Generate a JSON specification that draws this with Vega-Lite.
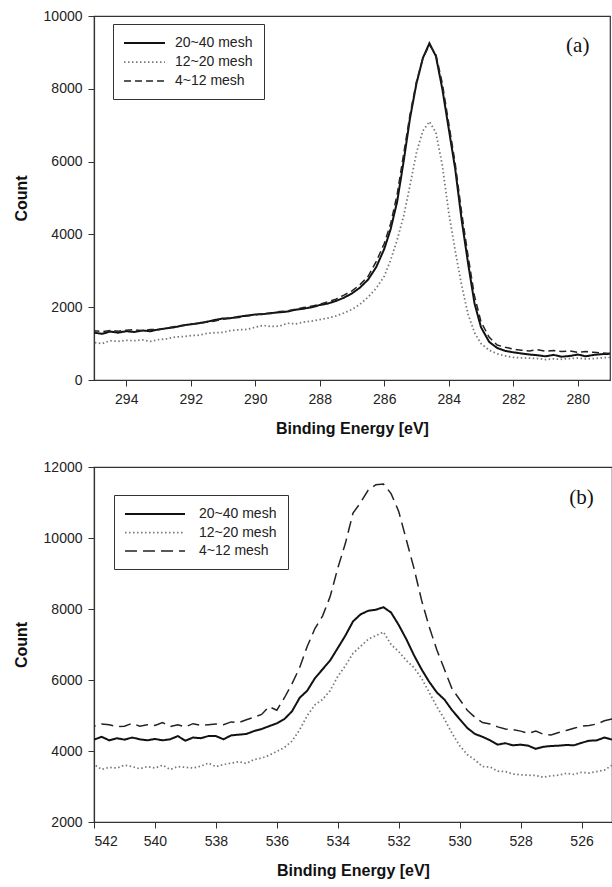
{
  "$schema": "https://vega.github.io/schema/vega-lite/v6.json",
  "background": "white",
  "padding": {"left": 12, "top": 8, "right": 1, "bottom": 2},
  "config": {
    "view": {"stroke": "#333", "strokeWidth": 1.2},
    "axis": {
      "grid": false,
      "domainColor": "#333",
      "domainWidth": 1.2,
      "tickColor": "#333",
      "tickSize": 6,
      "labelFont": "Liberation Sans",
      "labelFontSize": 14,
      "labelColor": "#222",
      "titleFont": "Liberation Sans",
      "titleFontSize": 16,
      "titleFontWeight": "bold",
      "titleColor": "#111",
      "labelPadding": 6
    },
    "legend": {
      "orient": "none",
      "title": null,
      "labelFont": "Liberation Sans",
      "labelFontSize": 14,
      "labelColor": "#222",
      "strokeColor": "#333",
      "fillColor": "white",
      "padding": 11,
      "symbolSize": 196
    }
  },
  "datasets": {
    "c1s": [
      {"e": 295.0, "20~40 mesh": 1300, "12~20 mesh": 1030, "4~12 mesh": 1350},
      {"e": 294.75, "20~40 mesh": 1270, "12~20 mesh": 1000, "4~12 mesh": 1330},
      {"e": 294.5, "20~40 mesh": 1330, "12~20 mesh": 1080, "4~12 mesh": 1360},
      {"e": 294.25, "20~40 mesh": 1300, "12~20 mesh": 1060, "4~12 mesh": 1340},
      {"e": 294.0, "20~40 mesh": 1340, "12~20 mesh": 1090, "4~12 mesh": 1370},
      {"e": 293.75, "20~40 mesh": 1320, "12~20 mesh": 1080, "4~12 mesh": 1380},
      {"e": 293.5, "20~40 mesh": 1360, "12~20 mesh": 1100, "4~12 mesh": 1350},
      {"e": 293.25, "20~40 mesh": 1340, "12~20 mesh": 1060, "4~12 mesh": 1390},
      {"e": 293.0, "20~40 mesh": 1390, "12~20 mesh": 1110, "4~12 mesh": 1380},
      {"e": 292.75, "20~40 mesh": 1420, "12~20 mesh": 1130, "4~12 mesh": 1420},
      {"e": 292.5, "20~40 mesh": 1450, "12~20 mesh": 1180, "4~12 mesh": 1470},
      {"e": 292.25, "20~40 mesh": 1500, "12~20 mesh": 1190, "4~12 mesh": 1490},
      {"e": 292.0, "20~40 mesh": 1530, "12~20 mesh": 1220, "4~12 mesh": 1540},
      {"e": 291.75, "20~40 mesh": 1560, "12~20 mesh": 1230, "4~12 mesh": 1550},
      {"e": 291.5, "20~40 mesh": 1600, "12~20 mesh": 1280, "4~12 mesh": 1590},
      {"e": 291.25, "20~40 mesh": 1650, "12~20 mesh": 1300, "4~12 mesh": 1620},
      {"e": 291.0, "20~40 mesh": 1690, "12~20 mesh": 1310, "4~12 mesh": 1670},
      {"e": 290.75, "20~40 mesh": 1700, "12~20 mesh": 1360, "4~12 mesh": 1700},
      {"e": 290.5, "20~40 mesh": 1740, "12~20 mesh": 1380, "4~12 mesh": 1720},
      {"e": 290.25, "20~40 mesh": 1770, "12~20 mesh": 1390, "4~12 mesh": 1760},
      {"e": 290.0, "20~40 mesh": 1800, "12~20 mesh": 1450, "4~12 mesh": 1790},
      {"e": 289.75, "20~40 mesh": 1810, "12~20 mesh": 1500, "4~12 mesh": 1820},
      {"e": 289.5, "20~40 mesh": 1840, "12~20 mesh": 1470, "4~12 mesh": 1830},
      {"e": 289.25, "20~40 mesh": 1860, "12~20 mesh": 1480, "4~12 mesh": 1880},
      {"e": 289.0, "20~40 mesh": 1880, "12~20 mesh": 1560, "4~12 mesh": 1900},
      {"e": 288.75, "20~40 mesh": 1930, "12~20 mesh": 1540, "4~12 mesh": 1950},
      {"e": 288.5, "20~40 mesh": 1960, "12~20 mesh": 1590, "4~12 mesh": 1990},
      {"e": 288.25, "20~40 mesh": 2000, "12~20 mesh": 1620, "4~12 mesh": 2030},
      {"e": 288.0, "20~40 mesh": 2060, "12~20 mesh": 1660, "4~12 mesh": 2080},
      {"e": 287.75, "20~40 mesh": 2100, "12~20 mesh": 1700, "4~12 mesh": 2150},
      {"e": 287.5, "20~40 mesh": 2170, "12~20 mesh": 1760, "4~12 mesh": 2220},
      {"e": 287.25, "20~40 mesh": 2260, "12~20 mesh": 1840, "4~12 mesh": 2330},
      {"e": 287.0, "20~40 mesh": 2380, "12~20 mesh": 1940, "4~12 mesh": 2450},
      {"e": 286.75, "20~40 mesh": 2540, "12~20 mesh": 2080, "4~12 mesh": 2620},
      {"e": 286.5, "20~40 mesh": 2760, "12~20 mesh": 2280, "4~12 mesh": 2850},
      {"e": 286.25, "20~40 mesh": 3100, "12~20 mesh": 2520, "4~12 mesh": 3250},
      {"e": 286.0, "20~40 mesh": 3600, "12~20 mesh": 2850, "4~12 mesh": 3750},
      {"e": 285.8, "20~40 mesh": 4150, "12~20 mesh": 3300, "4~12 mesh": 4300},
      {"e": 285.6, "20~40 mesh": 4900, "12~20 mesh": 3850, "4~12 mesh": 5100},
      {"e": 285.4, "20~40 mesh": 6000, "12~20 mesh": 4500, "4~12 mesh": 6200},
      {"e": 285.2, "20~40 mesh": 7200, "12~20 mesh": 5350, "4~12 mesh": 7300},
      {"e": 285.0, "20~40 mesh": 8150, "12~20 mesh": 6250, "4~12 mesh": 8200},
      {"e": 284.8, "20~40 mesh": 8850, "12~20 mesh": 6850, "4~12 mesh": 8850},
      {"e": 284.6, "20~40 mesh": 9250, "12~20 mesh": 7100, "4~12 mesh": 9200},
      {"e": 284.4, "20~40 mesh": 8900, "12~20 mesh": 6800, "4~12 mesh": 8950},
      {"e": 284.2, "20~40 mesh": 8000, "12~20 mesh": 5900, "4~12 mesh": 8150},
      {"e": 284.0, "20~40 mesh": 6900, "12~20 mesh": 4600, "4~12 mesh": 7050},
      {"e": 283.8, "20~40 mesh": 5800, "12~20 mesh": 3550, "4~12 mesh": 5950},
      {"e": 283.6, "20~40 mesh": 4400, "12~20 mesh": 2600, "4~12 mesh": 4600},
      {"e": 283.4, "20~40 mesh": 3200, "12~20 mesh": 1800, "4~12 mesh": 3400},
      {"e": 283.2, "20~40 mesh": 2100, "12~20 mesh": 1300, "4~12 mesh": 2300},
      {"e": 283.0, "20~40 mesh": 1450, "12~20 mesh": 1000, "4~12 mesh": 1600},
      {"e": 282.75, "20~40 mesh": 1050, "12~20 mesh": 820, "4~12 mesh": 1180},
      {"e": 282.5, "20~40 mesh": 880, "12~20 mesh": 720, "4~12 mesh": 960},
      {"e": 282.25, "20~40 mesh": 800, "12~20 mesh": 660, "4~12 mesh": 900},
      {"e": 282.0, "20~40 mesh": 760, "12~20 mesh": 620, "4~12 mesh": 850},
      {"e": 281.75, "20~40 mesh": 730, "12~20 mesh": 610, "4~12 mesh": 820},
      {"e": 281.5, "20~40 mesh": 700, "12~20 mesh": 600, "4~12 mesh": 800},
      {"e": 281.25, "20~40 mesh": 680, "12~20 mesh": 590, "4~12 mesh": 830},
      {"e": 281.0, "20~40 mesh": 650, "12~20 mesh": 560, "4~12 mesh": 790},
      {"e": 280.75, "20~40 mesh": 690, "12~20 mesh": 580, "4~12 mesh": 810},
      {"e": 280.5, "20~40 mesh": 640, "12~20 mesh": 570, "4~12 mesh": 780},
      {"e": 280.25, "20~40 mesh": 660, "12~20 mesh": 590, "4~12 mesh": 800},
      {"e": 280.0, "20~40 mesh": 700, "12~20 mesh": 600, "4~12 mesh": 760},
      {"e": 279.75, "20~40 mesh": 650, "12~20 mesh": 580, "4~12 mesh": 780},
      {"e": 279.5, "20~40 mesh": 690, "12~20 mesh": 590, "4~12 mesh": 760},
      {"e": 279.25, "20~40 mesh": 710, "12~20 mesh": 610, "4~12 mesh": 740},
      {"e": 279.0, "20~40 mesh": 720, "12~20 mesh": 620, "4~12 mesh": 730}
    ],
    "o1s": [
      {"e": 542.0, "20~40 mesh": 4320, "12~20 mesh": 3620, "4~12 mesh": 4700},
      {"e": 541.75, "20~40 mesh": 4400, "12~20 mesh": 3480, "4~12 mesh": 4760},
      {"e": 541.5, "20~40 mesh": 4300, "12~20 mesh": 3540, "4~12 mesh": 4740},
      {"e": 541.25, "20~40 mesh": 4360, "12~20 mesh": 3520, "4~12 mesh": 4690},
      {"e": 541.0, "20~40 mesh": 4320, "12~20 mesh": 3600, "4~12 mesh": 4700},
      {"e": 540.75, "20~40 mesh": 4380, "12~20 mesh": 3560, "4~12 mesh": 4780},
      {"e": 540.5, "20~40 mesh": 4330, "12~20 mesh": 3500, "4~12 mesh": 4700},
      {"e": 540.25, "20~40 mesh": 4300, "12~20 mesh": 3560, "4~12 mesh": 4740},
      {"e": 540.0, "20~40 mesh": 4340, "12~20 mesh": 3520, "4~12 mesh": 4720},
      {"e": 539.75, "20~40 mesh": 4300, "12~20 mesh": 3600, "4~12 mesh": 4800},
      {"e": 539.5, "20~40 mesh": 4330, "12~20 mesh": 3480, "4~12 mesh": 4690},
      {"e": 539.25, "20~40 mesh": 4420, "12~20 mesh": 3560, "4~12 mesh": 4740},
      {"e": 539.0, "20~40 mesh": 4290, "12~20 mesh": 3540, "4~12 mesh": 4680},
      {"e": 538.75, "20~40 mesh": 4380, "12~20 mesh": 3520, "4~12 mesh": 4770},
      {"e": 538.5, "20~40 mesh": 4360, "12~20 mesh": 3570, "4~12 mesh": 4720},
      {"e": 538.25, "20~40 mesh": 4420, "12~20 mesh": 3660, "4~12 mesh": 4740},
      {"e": 538.0, "20~40 mesh": 4420, "12~20 mesh": 3560, "4~12 mesh": 4760},
      {"e": 537.75, "20~40 mesh": 4330, "12~20 mesh": 3620, "4~12 mesh": 4740},
      {"e": 537.5, "20~40 mesh": 4440, "12~20 mesh": 3660, "4~12 mesh": 4820},
      {"e": 537.25, "20~40 mesh": 4460, "12~20 mesh": 3700, "4~12 mesh": 4800},
      {"e": 537.0, "20~40 mesh": 4480, "12~20 mesh": 3650, "4~12 mesh": 4880},
      {"e": 536.75, "20~40 mesh": 4560, "12~20 mesh": 3760, "4~12 mesh": 4950},
      {"e": 536.5, "20~40 mesh": 4620, "12~20 mesh": 3800, "4~12 mesh": 5030},
      {"e": 536.25, "20~40 mesh": 4700, "12~20 mesh": 3880, "4~12 mesh": 5250},
      {"e": 536.0, "20~40 mesh": 4780, "12~20 mesh": 3990, "4~12 mesh": 5150},
      {"e": 535.75, "20~40 mesh": 4900, "12~20 mesh": 4100, "4~12 mesh": 5500},
      {"e": 535.5, "20~40 mesh": 5120, "12~20 mesh": 4280, "4~12 mesh": 5900},
      {"e": 535.25, "20~40 mesh": 5500, "12~20 mesh": 4600, "4~12 mesh": 6350},
      {"e": 535.0, "20~40 mesh": 5700, "12~20 mesh": 5000, "4~12 mesh": 6950},
      {"e": 534.75, "20~40 mesh": 6050, "12~20 mesh": 5300, "4~12 mesh": 7450},
      {"e": 534.5, "20~40 mesh": 6300, "12~20 mesh": 5450, "4~12 mesh": 7800},
      {"e": 534.25, "20~40 mesh": 6550, "12~20 mesh": 5700, "4~12 mesh": 8350},
      {"e": 534.0, "20~40 mesh": 6900, "12~20 mesh": 6100, "4~12 mesh": 9150},
      {"e": 533.75, "20~40 mesh": 7250, "12~20 mesh": 6400, "4~12 mesh": 9850},
      {"e": 533.5, "20~40 mesh": 7650, "12~20 mesh": 6750, "4~12 mesh": 10700},
      {"e": 533.25, "20~40 mesh": 7850, "12~20 mesh": 6950, "4~12 mesh": 11000},
      {"e": 533.0, "20~40 mesh": 7950, "12~20 mesh": 7150, "4~12 mesh": 11350},
      {"e": 532.75, "20~40 mesh": 7980, "12~20 mesh": 7250, "4~12 mesh": 11500},
      {"e": 532.5, "20~40 mesh": 8050, "12~20 mesh": 7350, "4~12 mesh": 11520},
      {"e": 532.25, "20~40 mesh": 7900, "12~20 mesh": 7000, "4~12 mesh": 11250},
      {"e": 532.0, "20~40 mesh": 7550, "12~20 mesh": 6800, "4~12 mesh": 10750},
      {"e": 531.75, "20~40 mesh": 7150, "12~20 mesh": 6550, "4~12 mesh": 9950},
      {"e": 531.5, "20~40 mesh": 6700, "12~20 mesh": 6350, "4~12 mesh": 9150},
      {"e": 531.25, "20~40 mesh": 6300, "12~20 mesh": 6050, "4~12 mesh": 8250},
      {"e": 531.0, "20~40 mesh": 5950, "12~20 mesh": 5650, "4~12 mesh": 7500},
      {"e": 530.75, "20~40 mesh": 5650, "12~20 mesh": 5250, "4~12 mesh": 6850},
      {"e": 530.5, "20~40 mesh": 5450, "12~20 mesh": 4900, "4~12 mesh": 6300},
      {"e": 530.25, "20~40 mesh": 5150, "12~20 mesh": 4500, "4~12 mesh": 5750},
      {"e": 530.0, "20~40 mesh": 4900, "12~20 mesh": 4150, "4~12 mesh": 5450},
      {"e": 529.75, "20~40 mesh": 4650, "12~20 mesh": 3900, "4~12 mesh": 5150},
      {"e": 529.5, "20~40 mesh": 4480, "12~20 mesh": 3750, "4~12 mesh": 4950},
      {"e": 529.25, "20~40 mesh": 4400, "12~20 mesh": 3560, "4~12 mesh": 4800},
      {"e": 529.0, "20~40 mesh": 4300, "12~20 mesh": 3550, "4~12 mesh": 4760},
      {"e": 528.75, "20~40 mesh": 4180, "12~20 mesh": 3430, "4~12 mesh": 4680},
      {"e": 528.5, "20~40 mesh": 4220, "12~20 mesh": 3420, "4~12 mesh": 4620},
      {"e": 528.25, "20~40 mesh": 4160, "12~20 mesh": 3350, "4~12 mesh": 4600},
      {"e": 528.0, "20~40 mesh": 4180, "12~20 mesh": 3330, "4~12 mesh": 4560},
      {"e": 527.75, "20~40 mesh": 4150, "12~20 mesh": 3320, "4~12 mesh": 4500},
      {"e": 527.5, "20~40 mesh": 4060, "12~20 mesh": 3310, "4~12 mesh": 4560},
      {"e": 527.25, "20~40 mesh": 4120, "12~20 mesh": 3260, "4~12 mesh": 4470},
      {"e": 527.0, "20~40 mesh": 4140, "12~20 mesh": 3300, "4~12 mesh": 4450},
      {"e": 526.75, "20~40 mesh": 4150, "12~20 mesh": 3320, "4~12 mesh": 4520},
      {"e": 526.5, "20~40 mesh": 4170, "12~20 mesh": 3370, "4~12 mesh": 4580},
      {"e": 526.25, "20~40 mesh": 4160, "12~20 mesh": 3340, "4~12 mesh": 4640},
      {"e": 526.0, "20~40 mesh": 4230, "12~20 mesh": 3400, "4~12 mesh": 4700},
      {"e": 525.75, "20~40 mesh": 4290, "12~20 mesh": 3380, "4~12 mesh": 4720},
      {"e": 525.5, "20~40 mesh": 4300, "12~20 mesh": 3420, "4~12 mesh": 4760},
      {"e": 525.25, "20~40 mesh": 4380, "12~20 mesh": 3460, "4~12 mesh": 4850},
      {"e": 525.0, "20~40 mesh": 4320, "12~20 mesh": 3600, "4~12 mesh": 4900}
    ]
  },
  "vconcat": [
    {
      "width": 516,
      "height": 364,
      "layer": [
        {
          "data": {"name": "c1s"},
          "transform": [{"fold": ["20~40 mesh", "12~20 mesh", "4~12 mesh"], "as": ["series", "count"]}],
          "mark": {"type": "line", "clip": true},
          "encoding": {
            "x": {"field": "e", "type": "quantitative", "scale": {"domain": [279, 295], "reverse": true, "nice": false, "zero": false},
              "axis": {"values": [294, 292, 290, 288, 286, 284, 282, 280], "title": "Binding Energy [eV]", "titlePadding": 14}},
            "y": {"field": "count", "type": "quantitative", "scale": {"domain": [0, 10000], "nice": false},
              "axis": {"values": [0, 2000, 4000, 6000, 8000, 10000], "format": "d", "title": "Count", "titlePadding": 14}},
            "color": {"field": "series", "type": "nominal",
              "scale": {"domain": ["20~40 mesh", "12~20 mesh", "4~12 mesh"], "range": ["#111111", "#777777", "#222222"]},
              "legend": {"legendX": 19, "legendY": 8, "symbolType": "M-1.14,0H4.71", "labelOffset": 35, "rowPadding": 4}},
            "strokeDash": {"field": "series", "type": "nominal",
              "scale": {"domain": ["20~40 mesh", "12~20 mesh", "4~12 mesh"], "range": [[1, 0], [1.5, 2.5], [7, 4]]},
              "legend": {"legendX": 19, "legendY": 8, "symbolType": "M-1.14,0H4.71", "labelOffset": 35, "rowPadding": 4}},
            "strokeWidth": {"field": "series", "type": "nominal",
              "scale": {"domain": ["20~40 mesh", "12~20 mesh", "4~12 mesh"], "range": [2, 1.5, 1.3]},
              "legend": {"legendX": 19, "legendY": 8, "symbolType": "M-1.14,0H4.71", "labelOffset": 35, "rowPadding": 4}},
            "order": {"field": "e", "type": "quantitative"}
          }
        },
        {
          "data": {"values": [{"e": 280, "count": 9185, "label": "(a)"}]},
          "mark": {"type": "text", "font": "Liberation Serif", "fontSize": 21, "color": "#111", "align": "center", "baseline": "middle"},
          "encoding": {
            "x": {"field": "e", "type": "quantitative"},
            "y": {"field": "count", "type": "quantitative"},
            "text": {"field": "label"}
          }
        }
      ]
    },
    {
      "width": 518,
      "height": 355,
      "layer": [
        {
          "data": {"name": "o1s"},
          "transform": [{"fold": ["20~40 mesh", "12~20 mesh", "4~12 mesh"], "as": ["series", "count"]}],
          "mark": {"type": "line", "clip": true},
          "encoding": {
            "x": {"field": "e", "type": "quantitative", "scale": {"domain": [525, 542], "reverse": true, "nice": false, "zero": false},
              "axis": {"values": [542, 540, 538, 536, 534, 532, 530, 528, 526], "title": "Binding Energy [eV]", "titlePadding": 14}},
            "y": {"field": "count", "type": "quantitative", "scale": {"domain": [2000, 12000], "nice": false, "zero": false},
              "axis": {"values": [2000, 4000, 6000, 8000, 10000, 12000], "format": "d", "title": "Count", "titlePadding": 14}},
            "color": {"field": "series", "type": "nominal",
              "scale": {"domain": ["20~40 mesh", "12~20 mesh", "4~12 mesh"], "range": ["#111111", "#777777", "#222222"]},
              "legend": {"legendX": 20, "legendY": 28, "symbolType": "M-1.14,0H7.43", "labelOffset": 58, "rowPadding": 3.5}},
            "strokeDash": {"field": "series", "type": "nominal",
              "scale": {"domain": ["20~40 mesh", "12~20 mesh", "4~12 mesh"], "range": [[1, 0], [1.5, 2.5], [12, 6]]},
              "legend": {"legendX": 20, "legendY": 28, "symbolType": "M-1.14,0H7.43", "labelOffset": 58, "rowPadding": 3.5}},
            "strokeWidth": {"field": "series", "type": "nominal",
              "scale": {"domain": ["20~40 mesh", "12~20 mesh", "4~12 mesh"], "range": [2, 1.5, 1.3]},
              "legend": {"legendX": 20, "legendY": 28, "symbolType": "M-1.14,0H7.43", "labelOffset": 58, "rowPadding": 3.5}},
            "order": {"field": "e", "type": "quantitative"}
          }
        },
        {
          "data": {"values": [{"e": 526, "count": 11120, "label": "(b)"}]},
          "mark": {"type": "text", "font": "Liberation Serif", "fontSize": 21, "color": "#111", "align": "center", "baseline": "middle"},
          "encoding": {
            "x": {"field": "e", "type": "quantitative"},
            "y": {"field": "count", "type": "quantitative"},
            "text": {"field": "label"}
          }
        }
      ]
    }
  ],
  "spacing": 22,
  "resolve": {
    "scale": {"color": "independent", "strokeDash": "independent", "strokeWidth": "independent", "x": "independent", "y": "independent"},
    "legend": {"color": "independent", "strokeDash": "independent", "strokeWidth": "independent"}
  }
}
